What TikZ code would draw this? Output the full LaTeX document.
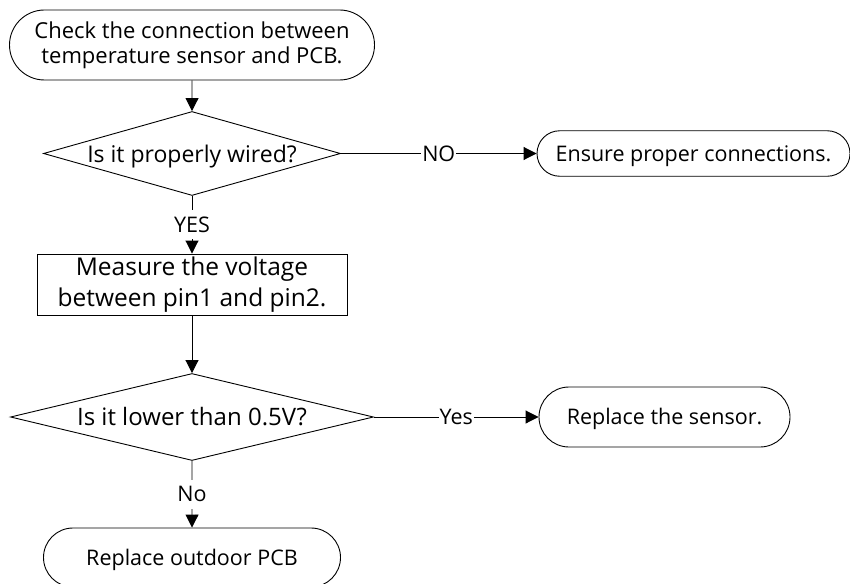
\documentclass[tikz,border=0pt]{standalone}
\usepackage{fontspec}
\setmainfont{Open Sans}
\usetikzlibrary{arrows.meta, shapes.geometric, shapes.misc}

\begin{document}
\begin{tikzpicture}[
  x=1pt, y=-1pt,
  stadium/.style={rounded rectangle, draw, line width=0.9pt, inner sep=0pt, font=\fontsize{21.5}{25}\selectfont},
  decision/.style={diamond, draw, line width=0.9pt, inner sep=0pt, text height=17pt, text depth=0pt, font=\fontsize{24}{30}\selectfont},
  procbox/.style={rectangle, draw, line width=0.9pt, inner sep=0pt, align=center, font=\fontsize{24.5}{31}\selectfont},
  arrow/.style={-{Triangle[length=13pt, width=13pt]}, line width=0.9pt},
  answer/.style={fill=white, inner xsep=1pt, inner ysep=7pt, text height=15.4pt, text depth=0pt, font=\fontsize{21.5}{25}\selectfont}
]
\useasboundingbox (0,0) rectangle (850,583);

\node[stadium, minimum width=365pt, minimum height=70pt, align=center, font=\fontsize{22}{25}\selectfont] (check) at (192,45) {Check the connection between\\temperature sensor and PCB.};
\node[decision, aspect=3.54, minimum width=297pt, minimum height=84pt, font=\fontsize{23}{30}\selectfont] (wired) at (192,153.5) {Is it properly wired?};
\node[stadium, minimum width=313pt, minimum height=45.5pt, text height=15.4pt, text depth=0pt] (ensure) at (693.5,153.5) {Ensure proper connections.};
\node[procbox, minimum width=310pt, minimum height=61pt] (measure) at (192,284.5) {Measure the voltage\\between pin1 and pin2.};
\node[decision, aspect=4.17, minimum width=363pt, minimum height=87pt] (lower) at (192,417) {Is it lower than 0.5V?};
\node[stadium, minimum width=251pt, minimum height=60pt, text height=15.4pt, text depth=0pt] (sensor) at (664.5,417) {Replace the sensor.};
\node[stadium, minimum width=297pt, minimum height=59pt, text height=15.4pt, text depth=0pt] (outdoor) at (192,557.5) {Replace outdoor PCB};

\draw[arrow] (check) -- (wired);
\draw[arrow] (wired) -- node[answer] {NO} (ensure);
\draw[arrow] (wired) -- node[answer] {YES} (measure);
\draw[arrow] (measure) -- (lower);
\draw[arrow] (lower) -- node[answer] {Yes} (sensor);
\draw[arrow] (lower) -- node[answer] {No} (outdoor);
\end{tikzpicture}
\end{document}
